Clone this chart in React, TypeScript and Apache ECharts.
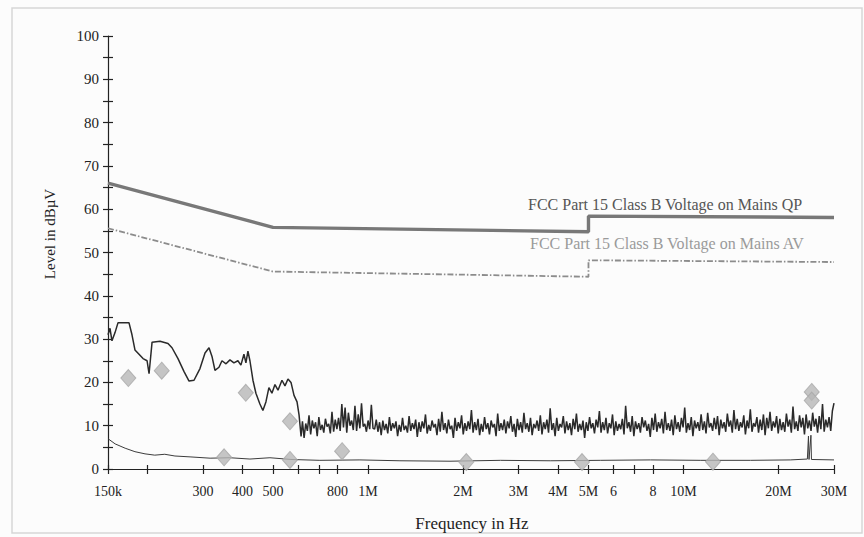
import React, { useEffect, useRef } from "react";
import * as echarts from "echarts";

// ---- Data (frequencies in kHz, levels in dBµV) ----
const qpLimitKHz = [150, 500, 5000, 5000, 30000];
const qpLimitDb = [66, 55.8, 54.8, 58.4, 58.1];
const avLimitKHz = [150, 500, 5000, 5000, 30000];
const avLimitDb = [55.6, 45.6, 44.4, 48.2, 47.8];

const peakLowKHz = [150, 152.2, 154.4, 157.9, 161.4, 174.8, 178.7, 182.6, 188.1, 193.7, 199.5, 202.4, 206.9, 219.3, 232.4, 239.3, 250, 261.3, 271, 281, 293.5, 304.5, 313.5, 320.4, 327.4, 337.2, 344.6, 354.9, 365.3, 376, 387.1, 395.7, 404.5, 410.4, 416.5, 422.6, 432, 441.5, 454.5, 464.5, 474.9, 485.4, 496.2, 507.3, 518.6, 533.9, 545.8, 557.9, 570.3, 583, 596, 604.8, 613.8];
const peakLowDb = [31, 32.5, 29.6, 31.5, 33.8, 33.8, 31, 27.5, 26.5, 25.5, 25, 22, 29.3, 29.5, 29, 28, 25.5, 22.5, 20.3, 20.5, 23.2, 26.8, 28, 26, 22.8, 23.5, 25, 24.3, 25.2, 24.5, 25, 24, 26.5, 24.5, 27.2, 25, 20.5, 17.5, 15, 13.5, 15.5, 18.8, 17.5, 19.5, 18.2, 20.5, 19.2, 20.8, 20, 17, 15.5, 12.5, 7.5];

// sweep 620 kHz .. 30 MHz, levels
const sweepStartKHz = 620;
const sweepStopKHz = 30000;
const sweepDb = [
  11, 7.2, 10.5, 8.8, 12.4, 8, 11.2, 9.4, 10.8, 7.6, 12, 9, 10.2, 8.4, 11.6, 9.8, 10.4, 8.2, 13.2, 8.6,
  11.4, 9.2, 11.8, 8.8, 15, 9.6, 14.2, 8.4, 13, 10, 11.2, 9, 14.6, 8.8, 12.6, 9.4, 15.2, 9.8, 10.4, 8.6, 11.2, 9.2, 14.8, 9.4,
  9.2, 11.4, 8.6, 10.8, 7.8, 11.2, 9.0, 10.4, 8.2, 12.0, 8.8, 10.6, 9.4, 11.0, 7.6, 10.2, 8.6, 11.8, 9.0, 10.0,
  8.4, 12.2, 8.8, 10.6, 9.2, 11.4, 7.4, 10.8, 8.6, 11.0, 9.4, 12.6, 8.2, 10.2, 8.8, 11.2, 9.6, 10.4, 7.8, 11.6,
  8.6, 13.2, 9.0, 10.6, 8.2, 11.4, 9.2, 10.0, 7.2, 11.8, 8.8, 10.8, 9.4, 12.4, 8.0, 10.6, 8.8, 11.0, 9.2, 13.6,
  8.4, 10.8, 9.0, 11.6, 7.8, 10.4, 8.6, 12.0, 9.2, 10.6, 8.0, 11.2, 9.6, 10.4, 7.6, 12.8, 8.8, 10.6, 9.0, 11.4,
  8.2, 11.0, 9.4, 12.2, 8.6, 10.4, 7.4, 11.6, 9.0, 10.8, 8.4, 13.0, 9.2, 10.6, 8.6, 11.8, 7.8, 10.4, 9.4, 11.2,
  8.8, 12.4, 8.0, 10.8, 9.2, 11.4, 8.4, 14.0, 9.0, 10.6, 7.6, 11.8, 8.8, 10.4, 9.6, 12.2, 8.2, 11.0, 9.0, 10.6,
  7.8, 11.6, 9.2, 12.8, 8.6, 10.4, 9.0, 11.2, 7.2, 10.8, 8.8, 12.0, 9.4, 10.6, 8.2, 11.4, 9.6, 13.4, 8.4, 10.8,
  9.0, 11.8, 8.2, 10.6, 9.4, 12.6, 7.8, 11.0, 8.8, 10.4, 9.2, 11.6, 8.0, 14.6, 9.4, 10.8, 8.6, 12.2, 7.6, 11.0,
  9.2, 10.6, 8.4, 12.0, 9.6, 11.2, 8.8, 10.4, 7.4, 11.8, 9.0, 12.8, 8.6, 10.8, 9.4, 11.6, 8.2, 13.2, 9.0, 10.6,
  8.8, 11.4, 7.8, 12.4, 9.2, 10.8, 8.6, 11.8, 9.6, 14.2, 8.4, 10.6, 9.0, 12.0, 7.6, 11.2, 9.4, 10.8, 8.8, 12.6,
  9.0, 11.0, 8.2, 13.0, 9.6, 10.6, 8.8, 11.8, 9.2, 12.2, 7.8, 11.4, 9.4, 10.8, 8.6, 12.8, 9.8, 11.2, 8.4, 13.6,
  9.2, 11.6, 8.8, 10.8, 9.6, 12.4, 8.0, 11.2, 9.4, 13.8, 8.6, 10.6, 9.8, 12.0, 8.4, 11.4, 9.0, 12.6, 7.8, 11.8,
  9.4, 13.2, 8.8, 11.0, 9.6, 12.2, 8.2, 11.6, 9.0, 10.8, 8.6, 12.8, 9.8, 11.4, 8.4, 14.4, 9.2, 11.0, 8.8, 12.4,
  9.6, 11.8, 8.0, 12.6, 9.4, 11.2, 8.8, 13.0, 9.8, 11.6, 8.4, 12.2, 9.2, 15.0, 8.6, 11.4, 9.6, 12.0, 8.8, 13.4,
  15.2,
];

const avgKHz = [150, 158, 170, 182.6, 196.5, 211, 227, 244.5, 273, 316, 365, 422.6, 489, 570, 704, 943, 1263, 1820, 2630, 3780, 5450, 7860, 11300, 16300, 21800, 24700, 24900, 25000, 25350, 25450, 30000];
const avgDb = [7, 5.8, 4.8, 4.0, 3.5, 3.2, 3.4, 3.0, 2.8, 2.5, 2.6, 2.3, 2.6, 2.2, 2.0, 2.1, 1.9, 1.8, 2.0, 1.9, 2.0, 2.1, 2.0, 2.0, 2.1, 2.3, 7.6, 2.2, 7.8, 2.2, 2.1];

const markerKHz = [174, 222, 350, 410, 566, 566, 828, 2050, 4770, 12400, 25500, 25500];
const markerDb = [21, 22.7, 2.7, 17.6, 11, 2.1, 4.1, 1.6, 1.6, 1.7, 17.8, 15.8];

const xLabelKHz = [150, 300, 400, 500, 800, 1000, 2000, 3000, 4000, 5000, 6000, 8000, 10000, 20000, 30000];
const xLabelText = ["150k", "300", "400", "500", "800", "1M", "2M", "3M", "4M", "5M", "6", "8", "10M", "20M", "30M"];
const xTickKHz = [150, 200, 300, 400, 500, 600, 700, 800, 1000, 2000, 3000, 4000, 5000, 6000, 7000, 8000, 10000, 20000, 30000];

const qpText = "FCC Part 15 Class B Voltage on Mains QP";
const avText = "FCC Part 15 Class B Voltage on Mains AV";

const lg = (kHz: number) => Math.log10(kHz * 1000);
const pairs = (xs: number[], ys: number[]) => xs.map((x, i) => [lg(x), ys[i]]);

const FONT = "'Liberation Serif', 'DejaVu Serif', 'Times New Roman', serif";

export default function App() {
  const ref = useRef<HTMLDivElement>(null);
  useEffect(() => {
    if (!ref.current) return;
    const chart = echarts.init(ref.current, undefined, { renderer: "svg" });

    const n = sweepDb.length;
    const sweepPts = sweepDb.map((v, i) => [
      lg(sweepStartKHz * Math.pow(sweepStopKHz / sweepStartKHz, i / (n - 1))),
      v,
    ]);
    const peakData = pairs(peakLowKHz, peakLowDb).concat(sweepPts);

    const xMin = lg(150);
    const xMax = lg(30000);
    const labelVals = xLabelKHz.map(lg);
    const tickVals = xTickKHz.map(lg);
    const fmtX = (v: number) => {
      let best = 0;
      let bd = Infinity;
      labelVals.forEach((lv, i) => {
        const d = Math.abs(lv - v);
        if (d < bd) { bd = d; best = i; }
      });
      return bd < 1e-6 ? xLabelText[best] : "";
    };

    const axisColor = "#222";
    chart.setOption({
      animation: false,
      backgroundColor: "#fcfcfc",
      grid: { left: 108, right: 30, top: 36, bottom: 68, containLabel: false },
      xAxis: [
        {
          type: "value",
          min: xMin,
          max: xMax,
          position: "bottom",
          axisLine: { show: true, lineStyle: { color: axisColor, width: 1.2 } },
          axisTick: { show: true, length: 5, customValues: tickVals, lineStyle: { color: axisColor, width: 1.2 } },
          axisLabel: {
            show: true,
            customValues: labelVals,
            formatter: fmtX,
            margin: 15,
            fontFamily: FONT,
            fontSize: 14,
            color: "#222",
          },
          splitLine: { show: false },
        },
        {
          type: "value",
          min: xMin,
          max: xMax,
          position: "bottom",
          axisLine: { show: false },
          axisTick: { show: true, inside: true, length: 4, customValues: tickVals, lineStyle: { color: axisColor, width: 1.2 } },
          axisLabel: { show: false },
          splitLine: { show: false },
        },
      ],
      yAxis: [
        {
          type: "value",
          min: 0,
          max: 100,
          interval: 5,
          position: "left",
          axisLine: { show: true, lineStyle: { color: axisColor, width: 1.2 } },
          axisTick: { show: true, length: 5, lineStyle: { color: axisColor, width: 1.2 } },
          axisLabel: {
            formatter: (v: number) => (v % 10 === 0 ? String(v) : ""),
            margin: 9,
            fontFamily: FONT,
            fontSize: 15,
            color: "#222",
          },
          splitLine: { show: false },
        },
        {
          type: "value",
          min: 0,
          max: 100,
          interval: 5,
          position: "left",
          axisLine: { show: false },
          axisTick: { show: true, inside: true, length: 5, lineStyle: { color: axisColor, width: 1.2 } },
          axisLabel: { show: false },
          splitLine: { show: false },
        },
      ],
      series: [
        {
          type: "line",
          data: pairs(qpLimitKHz, qpLimitDb),
          symbol: "none",
          lineStyle: { color: "#787878", width: 3.4 },
          z: 3,
        },
        {
          type: "line",
          data: pairs(avLimitKHz, avLimitDb),
          symbol: "none",
          lineStyle: { color: "#8c8c8c", width: 1.8, type: [6, 2, 1.5, 2] },
          z: 3,
        },
        {
          type: "line",
          data: peakData,
          symbol: "none",
          lineStyle: { color: "#2a2a2a", width: 1.5 },
          z: 4,
        },
        {
          type: "line",
          data: pairs(avgKHz, avgDb),
          symbol: "none",
          lineStyle: { color: "#3c3c3c", width: 1 },
          z: 4,
        },
        {
          type: "scatter",
          data: pairs(markerKHz, markerDb),
          symbol: "diamond",
          symbolSize: [15, 17],
          itemStyle: { color: "#b6b6b6", borderColor: "#a8a8a8", borderWidth: 1 },
          z: 5,
        },
      ],
      graphic: [
        {
          type: "rect",
          shape: { x: 12, y: 8, width: 850, height: 525 },
          style: { fill: "none", stroke: "#d6d6d6", lineWidth: 1.5 },
          silent: true,
          z: 0,
        },
        {
          type: "text",
          x: 528,
          y: 204,
          style: { text: qpText, fontFamily: FONT, fontSize: 16, fill: "#555", verticalAlign: "middle" },
        },
        {
          type: "text",
          x: 530,
          y: 243,
          style: { text: avText, fontFamily: FONT, fontSize: 16, fill: "#9a9a9a", verticalAlign: "middle" },
        },
        {
          type: "text",
          x: 50,
          y: 234,
          rotation: Math.PI / 2,
          style: { text: "Level in dBµV", fontFamily: FONT, fontSize: 15, fill: "#222", align: "center", verticalAlign: "middle" },
        },
        {
          type: "text",
          x: 472,
          y: 523,
          style: { text: "Frequency in Hz", fontFamily: FONT, fontSize: 17, fill: "#222", align: "center", verticalAlign: "middle" },
        },
      ],
    });
    return () => chart.dispose();
  }, []);
  return (
    <div
      ref={ref}
      style={{ position: "fixed", left: 0, top: 0, width: 864, height: 537 }}
    />
  );
}
